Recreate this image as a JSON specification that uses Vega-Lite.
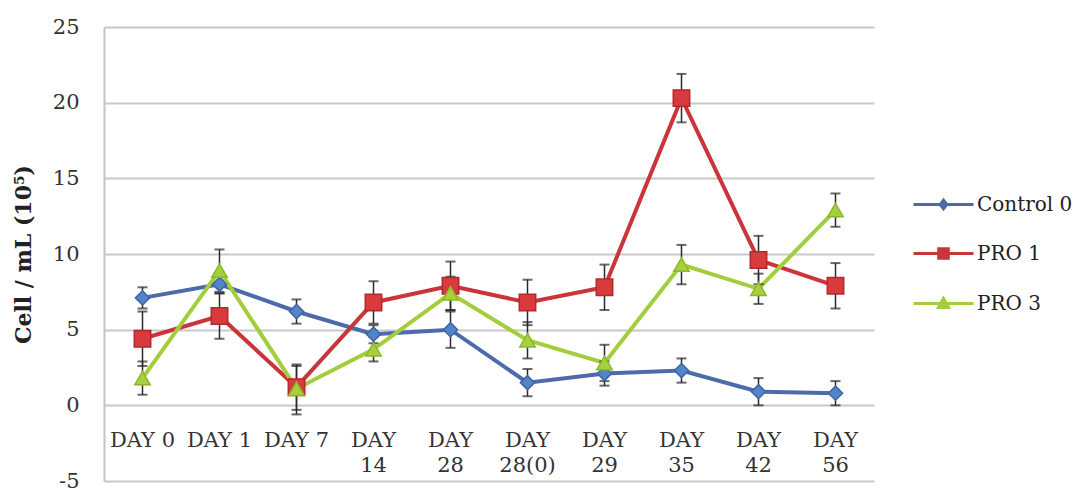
{
  "$schema": "https://vega.github.io/schema/vega-lite/v6.json",
  "width": 770,
  "height": 454,
  "autosize": {"type": "none"},
  "padding": {"left": 104, "top": 27, "right": 211, "bottom": 8},
  "background": "white",
  "config": {"view": {"stroke": null}, "font": "DejaVu Serif"},
  "data": {
    "values": [
      {"day": "DAY 0", "series": "Control 0", "value": 7.1, "lo": 6.4, "hi": 7.8},
      {"day": "DAY 1", "series": "Control 0", "value": 8.0, "lo": 7.4, "hi": 8.6},
      {"day": "DAY 7", "series": "Control 0", "value": 6.2, "lo": 5.4, "hi": 7.0},
      {"day": "DAY 14", "series": "Control 0", "value": 4.7, "lo": 4.1, "hi": 5.3},
      {"day": "DAY 28", "series": "Control 0", "value": 5.0, "lo": 3.8, "hi": 6.2},
      {"day": "DAY 28(0)", "series": "Control 0", "value": 1.5, "lo": 0.6, "hi": 2.4},
      {"day": "DAY 29", "series": "Control 0", "value": 2.1, "lo": 1.3, "hi": 2.9},
      {"day": "DAY 35", "series": "Control 0", "value": 2.3, "lo": 1.5, "hi": 3.1},
      {"day": "DAY 42", "series": "Control 0", "value": 0.9, "lo": 0.0, "hi": 1.8},
      {"day": "DAY 56", "series": "Control 0", "value": 0.8, "lo": 0.0, "hi": 1.6},
      {"day": "DAY 0", "series": "PRO 1", "value": 4.4, "lo": 2.6, "hi": 6.2},
      {"day": "DAY 1", "series": "PRO 1", "value": 5.9, "lo": 4.4, "hi": 7.4},
      {"day": "DAY 7", "series": "PRO 1", "value": 1.2, "lo": -0.3, "hi": 2.7},
      {"day": "DAY 14", "series": "PRO 1", "value": 6.8, "lo": 5.4, "hi": 8.2},
      {"day": "DAY 28", "series": "PRO 1", "value": 7.9, "lo": 6.3, "hi": 9.5},
      {"day": "DAY 28(0)", "series": "PRO 1", "value": 6.8, "lo": 5.3, "hi": 8.3},
      {"day": "DAY 29", "series": "PRO 1", "value": 7.8, "lo": 6.3, "hi": 9.3},
      {"day": "DAY 35", "series": "PRO 1", "value": 20.3, "lo": 18.7, "hi": 21.9},
      {"day": "DAY 42", "series": "PRO 1", "value": 9.6, "lo": 8.0, "hi": 11.2},
      {"day": "DAY 56", "series": "PRO 1", "value": 7.9, "lo": 6.4, "hi": 9.4},
      {"day": "DAY 0", "series": "PRO 3", "value": 1.8, "lo": 0.7, "hi": 2.9},
      {"day": "DAY 1", "series": "PRO 3", "value": 8.9, "lo": 7.5, "hi": 10.3},
      {"day": "DAY 7", "series": "PRO 3", "value": 1.1, "lo": -0.6, "hi": 2.6},
      {"day": "DAY 14", "series": "PRO 3", "value": 3.7, "lo": 2.9, "hi": 4.5},
      {"day": "DAY 28", "series": "PRO 3", "value": 7.4, "lo": 6.3, "hi": 8.5},
      {"day": "DAY 28(0)", "series": "PRO 3", "value": 4.3, "lo": 3.1, "hi": 5.5},
      {"day": "DAY 29", "series": "PRO 3", "value": 2.8, "lo": 1.6, "hi": 4.0},
      {"day": "DAY 35", "series": "PRO 3", "value": 9.3, "lo": 8.0, "hi": 10.6},
      {"day": "DAY 42", "series": "PRO 3", "value": 7.7, "lo": 6.7, "hi": 8.7},
      {"day": "DAY 56", "series": "PRO 3", "value": 12.9, "lo": 11.8, "hi": 14.0}
    ]
  },
  "encoding": {
    "x": {
      "field": "day",
      "type": "ordinal",
      "sort": ["DAY 0", "DAY 1", "DAY 7", "DAY 14", "DAY 28", "DAY 28(0)", "DAY 29", "DAY 35", "DAY 42", "DAY 56"],
      "axis": {
        "orient": "bottom",
        "offset": -76,
        "domain": false,
        "ticks": false,
        "grid": false,
        "title": null,
        "labelAngle": 0,
        "labelPadding": 24,
        "labelFont": "DejaVu Serif",
        "labelFontSize": 21,
        "labelColor": "#333333",
        "labelLineHeight": 25,
        "labelOverlap": false,
        "labelExpr": "length(datum.label) > 5 ? split(datum.label, ' ') : datum.label"
      }
    }
  },
  "layer": [
    {
      "mark": {"type": "line", "strokeWidth": 4},
      "encoding": {
        "y": {
          "field": "value",
          "type": "quantitative",
          "scale": {"domain": [-5, 25], "nice": false, "zero": false},
          "axis": {
            "values": [-5, 0, 5, 10, 15, 20, 25],
            "domain": true,
            "domainColor": "#C4C4C4",
            "domainWidth": 2,
            "ticks": false,
            "grid": true,
            "gridColor": "#C8C8C8",
            "gridWidth": 2,
            "labelExpr": "'' + datum.value",
            "labelFont": "DejaVu Serif",
            "labelFontSize": 21,
            "labelColor": "#333333",
            "labelPadding": 25,
            "title": "Cell / mL (10⁵)",
            "titleFont": "DejaVu Serif",
            "titleFontSize": 22,
            "titleFontWeight": "bold",
            "titleColor": "#222222",
            "titlePadding": 17
          }
        },
        "color": {
          "field": "series",
          "type": "nominal",
          "scale": {"domain": ["Control 0", "PRO 1", "PRO 3"], "range": ["#4D6BAA", "#C9353A", "#A3CE3C"]},
          "legend": {
            "orient": "none",
            "legendX": 808,
            "legendY": 146,
            "title": null,
            "padding": 0,
            "symbolType": "M-1,0H1",
            "symbolSize": 3600,
            "symbolStrokeWidth": 3,
            "labelOffset": 2,
            "labelFont": "DejaVu Serif",
            "labelFontSize": 20,
            "labelColor": "#222222",
            "rowPadding": 7,
            "encode": {
              "labels": {
                "update": {
                  "font": {"value": "DejaVu Serif"},
                  "fontSize": {"value": 20}
                }
              },
              "symbols": {
                "update": {
                  "shape": {"signal": "datum.value === 'Control 0' ? 'M-1,0H1M0,-0.14L0.11,0L0,0.14L-0.11,0Z' : datum.value === 'PRO 1' ? 'M-1,0H1M-0.16,-0.16H0.16V0.16H-0.16Z' : 'M-1,0H1M0,-0.17L0.17,0.13H-0.17Z'"},
                  "fill": {"scale": "color", "field": "value"},
                  "stroke": {"scale": "color", "field": "value"},
                  "strokeWidth": {"value": 3}
                }
              }
            }
          }
        }
      }
    },
    {
      "mark": {"type": "rule", "color": "#2A2A2A", "strokeWidth": 1.5},
      "encoding": {
        "y": {"field": "lo", "type": "quantitative"},
        "y2": {"field": "hi"}
      }
    },
    {
      "mark": {"type": "tick", "color": "#2A2A2A", "size": 10, "thickness": 2},
      "encoding": {"y": {"field": "lo", "type": "quantitative"}}
    },
    {
      "mark": {"type": "tick", "color": "#2A2A2A", "size": 10, "thickness": 2},
      "encoding": {"y": {"field": "hi", "type": "quantitative"}}
    },
    {
      "transform": [{"filter": "datum.series === 'Control 0'"}],
      "mark": {"type": "point", "shape": "diamond", "filled": true, "opacity": 1, "size": 200, "fill": "#5584C6", "stroke": "#3E63A8", "strokeWidth": 1.5},
      "encoding": {"y": {"field": "value", "type": "quantitative"}}
    },
    {
      "transform": [{"filter": "datum.series === 'PRO 1'"}],
      "mark": {"type": "point", "shape": "square", "filled": true, "opacity": 1, "size": 270, "fill": "#D93A3C", "stroke": "#B2282D", "strokeWidth": 1.5},
      "encoding": {"y": {"field": "value", "type": "quantitative"}}
    },
    {
      "transform": [{"filter": "datum.series === 'PRO 3'"}],
      "mark": {"type": "point", "shape": "triangle-up", "filled": true, "opacity": 1, "size": 240, "fill": "#A6D13D", "stroke": "#8DB82E", "strokeWidth": 1.5},
      "encoding": {"y": {"field": "value", "type": "quantitative"}}
    }
  ]
}
